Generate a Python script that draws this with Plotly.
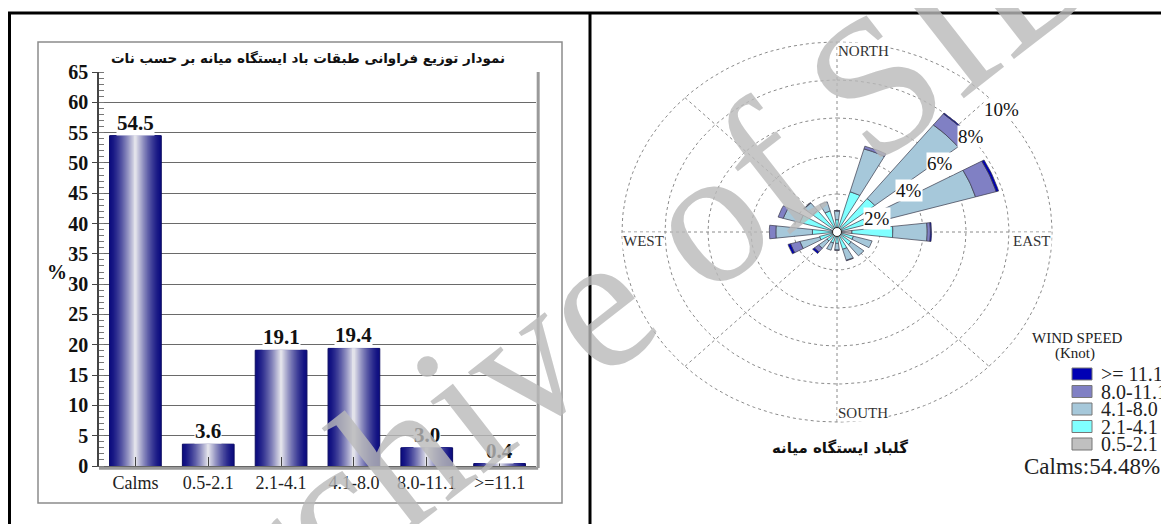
import numpy as np
import plotly.graph_objects as go

W, H = 1169, 524
OX, OY = 8, 8  # the page body margin shifts the figure by 8px

# ---- bar chart data (frequency of wind classes, %) ----
classes = ["Calms", "0.5-2.1", "2.1-4.1", "4.1-8.0", "8.0-11.1", ">=11.1"]
freq = [54.5, 3.6, 19.1, 19.4, 3.0, 0.4]
bar_title = "نمودار توزیع فراوانی طبقات باد ایستگاه میانه بر حسب نات"

# ---- wind rose data (% per direction, by speed class) ----
directions = ["N", "NNE", "NE", "ENE", "E", "ESE", "SE", "SSE",
              "S", "SSW", "SW", "WSW", "W", "WNW", "NW", "NNW"]
spd_05_21 = [0.15, 0.2, 0.2, 0.2, 0.7, 0.2, 0.15, 0.15, 0.1, 0.1, 0.1, 0.15, 0.15, 0.15, 0.15, 0.15]
spd_21_41 = [0.5, 2.0, 2.05, 1.2, 1.9, 0.6, 0.7, 0.8, 0.5, 0.5, 0.5, 0.7, 1.0, 1.65, 1.3, 1.0]
spd_41_80 = [0.45, 2.35, 4.95, 5.3, 1.6, 0.9, 0.75, 0.6, 0.35, 0.4, 0.5, 0.95, 1.7, 0.8, 0.5, 0.5]
spd_80_111 = [0.04, 0.15, 0.75, 1.0, 0.15, 0.0, 0.0, 0.03, 0.02, 0.0, 0.25, 0.45, 0.3, 0.25, 0.02, 0.0]
spd_gt_111 = [0.0, 0.0, 0.05, 0.12, 0.05, 0.0, 0.0, 0.0, 0.0, 0.0, 0.1, 0.12, 0.0, 0.0, 0.0, 0.0]
speed_labels = ["0.5-2.1", "2.1-4.1", "4.1-8.0", "8.0-11.1", ">= 11.1"]
ring_pct = [2, 4, 6, 8, 10]
calms_pct = 54.48
rose_title = "گلباد ایستگاه میانه"

speed_colors = ["#c0c0c0", "#80ffff", "#a6c8da", "#8080c4", "#0000b4"]
ring_label_deg = [70, 57, 53, 51, 50]
SERIF = "Liberation Serif"
FA = "DejaVu Sans"


def px(x):
    return (x - OX) / W


def py(y):
    return 1 - (y - OY) / H


def note(x, y, text, font, xa="center", ya="middle", **kw):
    fig.add_annotation(x=px(x), y=py(y), xref="paper", yref="paper", text=text,
                       showarrow=False, xanchor=xa, yanchor=ya, font=font, **kw)


fig = go.Figure()

# ---------- left: bar chart with cylinder-like gradient ----------
n_layers = 26
edge = np.array([14, 14, 128])
light = np.array([226, 226, 234])
for k in range(n_layers):
    t = (k / (n_layers - 1)) ** 1.4
    c = edge + (light - edge) * t
    fig.add_trace(go.Bar(
        x=classes, y=freq, width=0.71 * (1 - k / n_layers),
        marker=dict(color="rgb(%d,%d,%d)" % tuple(c.astype(int)),
                    line=dict(width=1 if k == 0 else 0, color="#0a0a60")),
        xaxis="x", yaxis="y", showlegend=False, hoverinfo="skip"))

for c, v in zip(classes, freq):
    fig.add_annotation(x=c, y=v, xref="x", yref="y", text=f"{v:.1f}",
                       showarrow=False, yanchor="bottom", yshift=0,
                       bgcolor="white", borderpad=0,
                       font=dict(family=SERIF, size=21, color="#111", weight="bold"))

# ---------- right: wind rose drawn on cartesian axes ----------
stack = [spd_05_21, spd_21_41, spd_41_80, spd_80_111, spd_gt_111]
half = np.radians(6.5)
arc = np.linspace(-half, half, 11)

ang = np.linspace(0, 2 * np.pi, 241)
for r in ring_pct:
    fig.add_trace(go.Scatter(x=r * np.sin(ang), y=r * np.cos(ang), mode="lines",
                             line=dict(color="#8a8a8a", width=1, dash="dot"),
                             xaxis="x2", yaxis="y2", showlegend=False, hoverinfo="skip"))
rmax = max(ring_pct)
sx, sy = [], []
for a in np.radians(np.arange(0, 180, 45)):
    sx += [-rmax * np.sin(a), rmax * np.sin(a), None]
    sy += [-rmax * np.cos(a), rmax * np.cos(a), None]
fig.add_trace(go.Scatter(x=sx, y=sy, mode="lines",
                         line=dict(color="#8a8a8a", width=1, dash="dot"),
                         xaxis="x2", yaxis="y2", showlegend=False, hoverinfo="skip"))

base = np.zeros(len(directions))
for vals, col, lab in zip(stack, speed_colors, speed_labels):
    xs, ys = [], []
    for i, v in enumerate(vals):
        if v <= 0:
            continue
        th = np.radians(22.5 * i) + arc
        r0, r1 = base[i], base[i] + v
        xs += list(r1 * np.sin(th)) + list(r0 * np.sin(th[::-1])) + [r1 * np.sin(th[0]), None]
        ys += list(r1 * np.cos(th)) + list(r0 * np.cos(th[::-1])) + [r1 * np.cos(th[0]), None]
    base = base + np.array(vals)
    fig.add_trace(go.Scatter(x=xs, y=ys, mode="lines", fill="toself", fillcolor=col,
                             line=dict(color="#3a3a4a", width=0.7), name=lab,
                             xaxis="x2", yaxis="y2", showlegend=False, hoverinfo="skip"))

fig.add_trace(go.Scatter(x=[0], y=[0], mode="markers",
                         marker=dict(size=9, color="white", line=dict(color="#222", width=1)),
                         xaxis="x2", yaxis="y2", showlegend=False, hoverinfo="skip"))

for r, d in zip(ring_pct, ring_label_deg):
    a = np.radians(d)
    fig.add_annotation(x=r * np.sin(a), y=r * np.cos(a), xref="x2", yref="y2",
                       text=f"{r}%", showarrow=False, bgcolor="white", borderpad=0,
                       xanchor="center", yanchor="middle",
                       font=dict(family=SERIF, size=19, color="#111"))

comp = dict(family=SERIF, size=15, color="#333")
fig.add_annotation(x=0, y=rmax, xref="x2", yref="y2", text="NORTH", showarrow=False,
                   xanchor="left", yanchor="top", bgcolor="white", borderpad=0, font=comp)
fig.add_annotation(x=0, y=-rmax, xref="x2", yref="y2", text="SOUTH", showarrow=False,
                   xanchor="left", yanchor="bottom", bgcolor="white", borderpad=0, font=comp)
fig.add_annotation(x=-rmax, y=0, xref="x2", yref="y2", text="WEST", showarrow=False,
                   xanchor="left", yanchor="top", bgcolor="white", borderpad=0, font=comp)
fig.add_annotation(x=rmax, y=0, xref="x2", yref="y2", text="EAST", showarrow=False,
                   xanchor="right", yanchor="top", bgcolor="white", borderpad=0, font=comp)

# legend (custom, as in the original)
note(1077, 338, "WIND SPEED", dict(family=SERIF, size=15, color="#222"))
note(1075, 353, "(Knot)", dict(family=SERIF, size=15, color="#222"))
for j, (lab, col) in enumerate(zip(speed_labels[::-1], speed_colors[::-1])):
    yc = 374 + 17.5 * j
    fig.add_shape(type="rect", xref="paper", yref="paper",
                  x0=px(1072), x1=px(1092), y0=py(yc - 6), y1=py(yc + 6),
                  fillcolor=col, line=dict(color="#777", width=1))
    note(1099, yc, lab, dict(family=SERIF, size=20, color="#222"), xa="left")
note(1022, 466, f"Calms:{calms_pct:.2f}%", dict(family=SERIF, size=23, color="#222"), xa="left")

# titles / axis label
note(308, 58, bar_title, dict(family=FA, size=13.5, color="#111", weight="bold"))
note(840, 448, rose_title, dict(family=FA, size=15, color="#111", weight="bold"))
note(57, 272, "%", dict(family=SERIF, size=20, color="#111", weight="bold"))

# frames
fig.add_shape(type="rect", xref="paper", yref="paper", x0=px(9.5), x1=px(1180), y0=py(540), y1=py(13),
              line=dict(color="black", width=3))
fig.add_shape(type="line", xref="paper", yref="paper", x0=px(590), x1=px(590), y0=py(13), y1=py(540),
              line=dict(color="black", width=3))
fig.add_shape(type="rect", xref="paper", yref="paper", x0=px(38), x1=px(562), y0=py(503), y1=py(42),
              line=dict(color="#8c8c8c", width=1.5))
fig.add_shape(type="line", xref="x domain", yref="y domain", x0=1.005, x1=1.005, y0=-0.005, y1=1,
              line=dict(color="#9a9a9a", width=3))
fig.add_shape(type="line", xref="x domain", yref="y domain", x0=0, x1=1.005, y0=-0.006, y1=-0.006,
              line=dict(color="#9a9a9a", width=3))

# watermark
note(606, 294, "Archive of SID", dict(family=SERIF, size=195, color="rgb(186,186,186)"),
     textangle=-38, opacity=0.8)

# rose axis scaling: 21.5 px per % horizontally, 19 px per % vertically, centre (837, 232)
cx, cy, kx, ky = 837, 232, 21.5, 19.0
xr = [-11.0, 11.0]
yr = [-11.5, 11.0]

fig.update_layout(
    template="none",
    width=W, height=H, margin=dict(l=0, r=0, t=0, b=0, autoexpand=False),
    paper_bgcolor="white", plot_bgcolor="white", barmode="overlay", showlegend=False,
    xaxis=dict(domain=[px(99), px(536)], type="category", showgrid=False,
               showline=True, linecolor="#555", linewidth=1,
               ticks="inside", ticklen=9, tickcolor="#444", automargin=False,
               tickfont=dict(family=SERIF, size=18, color="#222")),
    yaxis=dict(domain=[py(466), py(72)], range=[0, 65], dtick=5, automargin=False,
               showgrid=True, gridcolor="#6a6a6a", gridwidth=1.3,
               showline=True, linecolor="#444", linewidth=1.5,
               ticks="outside", ticklen=5, tickcolor="#444",
               minor=dict(dtick=1, ticks="inside", ticklen=5, tickcolor="#777", showgrid=False),
               tickfont=dict(family=SERIF, size=20, color="#111", weight="bold"), zeroline=False),
    xaxis2=dict(domain=[px(cx + xr[0] * kx), px(cx + xr[1] * kx)], range=xr, visible=False, anchor="y2"),
    yaxis2=dict(domain=[py(cy - yr[0] * ky), py(cy - yr[1] * ky)], range=yr, visible=False, anchor="x2"),
)

fig.write_html("out.html")
